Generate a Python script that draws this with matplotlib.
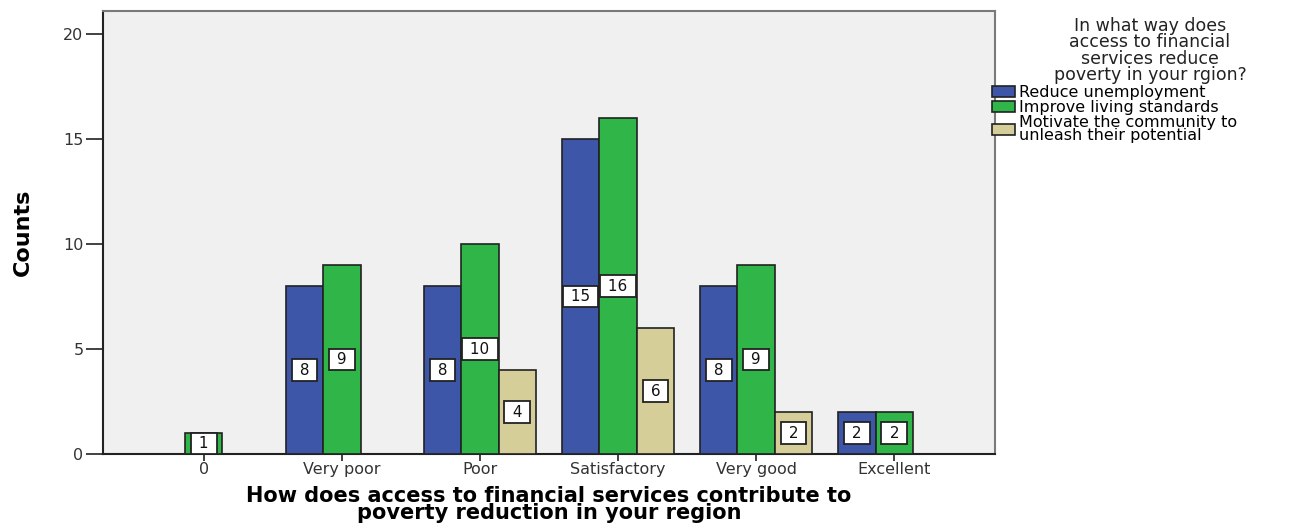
import matplotlib.pyplot as plt
import numpy as np
from matplotlib.patches import Patch

categories = ['0', 'Very poor', 'Poor', 'Satisfactory', 'Very good', 'Excellent']
series_names = ['Reduce unemployment', 'Improve living standards',
                'Motivate the community to\nunleash their potential']
reduce_unemployment = [0, 8, 8, 15, 8, 2]
improve_living = [1, 9, 10, 16, 9, 2]
motivate_community = [0, 0, 4, 6, 2, 0]
colors = ['#3d56a8', '#2fb548', '#d6ce99']

legend_title = 'In what way does\naccess to financial\nservices reduce\npoverty in your rgion?'
xlabel = 'How does access to financial services contribute to\npoverty reduction in your region'

fig = plt.figure(figsize=(13.09, 5.25), dpi=100)
ax = fig.add_axes([103 / 1309, 1 - 454 / 525, 892 / 1309, 443 / 525])
ax.set_facecolor('#f0f0f0')

x = np.arange(len(categories))
width = 0.27
for i, (vals, color) in enumerate(zip([reduce_unemployment, improve_living, motivate_community], colors)):
    offset = (i - 1) * width
    for xi, v in zip(x, vals):
        if v == 0:
            continue
        ax.bar(xi + offset, v, width, color=color, edgecolor='#222222', linewidth=1.2, zorder=3)
        # count label in a white box at mid-height of the bar
        ax.text(xi + offset, v / 2, f' {v} ', ha='center', va='center', fontsize=11,
                family='DejaVu Sans', color='#111111', zorder=4,
                bbox=dict(boxstyle='square,pad=0.2', fc='white', ec='#222222', lw=1.3))

ax.set_xlim(-0.73, 5.73)
ax.set_ylim(0, 21.1)
ax.set_yticks([0, 5, 10, 15, 20])
ax.set_xticks(x)
ax.set_xticklabels(categories)
ax.tick_params(axis='y', length=12, width=1.3, color='#333333', labelsize=11.5,
               labelcolor='#333333', pad=2)
ax.tick_params(axis='x', length=5, width=1.3, color='#333333', labelsize=11.5,
               labelcolor='#333333', pad=1)
for lab in ax.get_xticklabels() + ax.get_yticklabels():
    lab.set_family('DejaVu Sans')

for side in ['left', 'bottom']:
    ax.spines[side].set_color('#222222')
    ax.spines[side].set_linewidth(1.5)
for side in ['top', 'right']:
    ax.spines[side].set_color('#7a7a7a')
    ax.spines[side].set_linewidth(1.5)

ax.set_ylabel('Counts', fontsize=16, fontweight='bold', family='DejaVu Sans', labelpad=22)
ax.set_xlabel(xlabel, fontsize=15, fontweight='bold', family='DejaVu Sans',
              linespacing=0.82, labelpad=6)

fig.text(1150 / 1309, 1 - 17 / 525, legend_title, ha='center', va='top', fontsize=12.5,
         family='DejaVu Sans', color='#222222', linespacing=0.88)

handles = [Patch(facecolor=c, edgecolor='#222222', linewidth=1.2) for c in colors]
leg = fig.legend(handles, series_names, loc='upper left', bbox_to_anchor=(992 / 1309, 1 - 85 / 525),
                 frameon=False, prop={'family': 'DejaVu Sans', 'size': 11.5},
                 handlelength=1.45, handleheight=0.7, handletextpad=0.25,
                 labelspacing=0.0, borderpad=0, borderaxespad=0)
for t in leg.get_texts():
    t.set_linespacing(0.8)

fig.savefig('out.png', dpi=100)
